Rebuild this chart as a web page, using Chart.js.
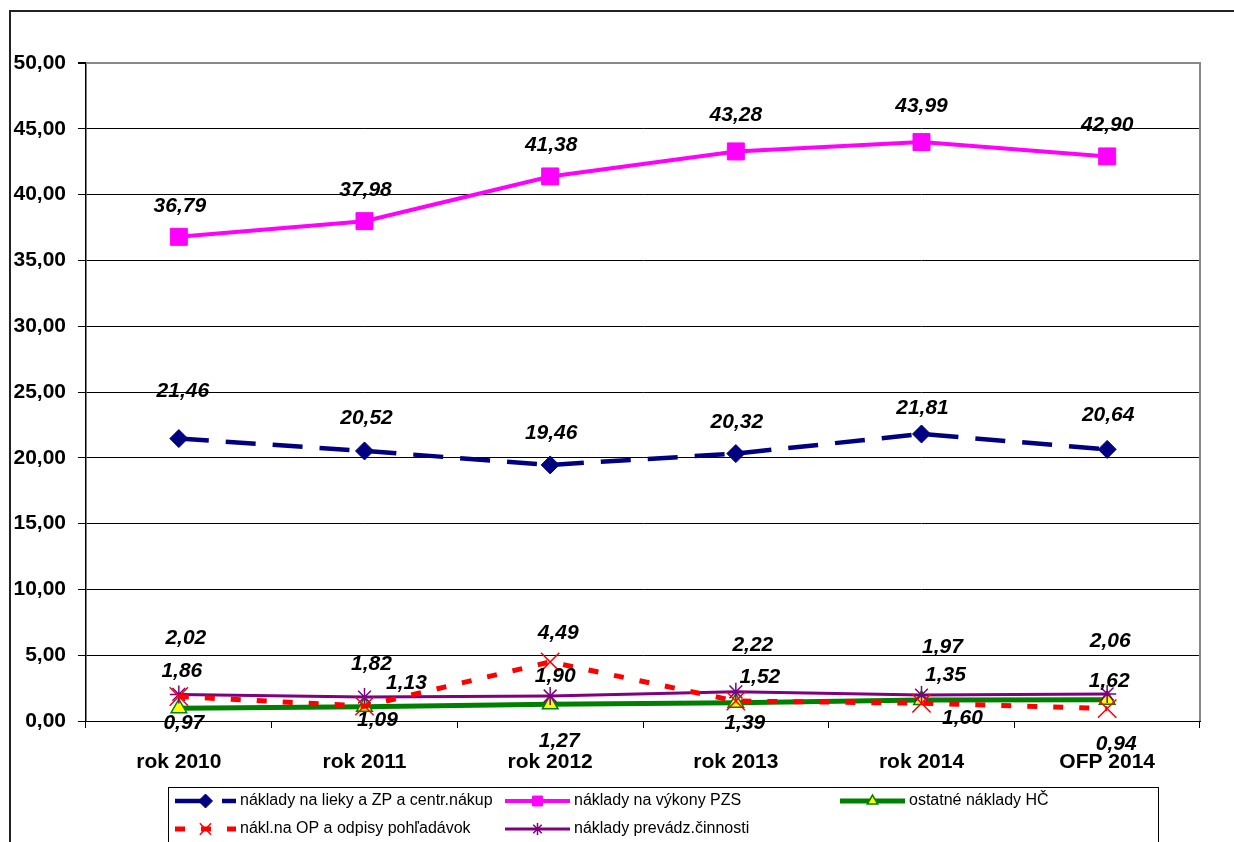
<!DOCTYPE html>
<html>
<head>
<meta charset="utf-8">
<title>Náklady</title>
<script src="https://cdn.jsdelivr.net/npm/chart.js@4/dist/chart.umd.min.js"></script>
<style>
  html, body { margin: 0; padding: 0; background: #fff; }
  #wrap { width: 1234px; height: 842px; position: relative; }
</style>
</head>
<body>
<div id="wrap"><canvas id="nakladyChart" width="1234" height="842"></canvas></div>
<script>
// Data
const categories = ['rok 2010', 'rok 2011', 'rok 2012', 'rok 2013', 'rok 2014', 'OFP 2014'];
const liekyZP    = [21.46, 20.52, 19.46, 20.32, 21.81, 20.64];
const vykonyPZS  = [36.79, 37.98, 41.38, 43.28, 43.99, 42.90];
const ostatneHC  = [0.97, 1.09, 1.27, 1.39, 1.60, 1.62];
const odpisyOP   = [1.86, 1.13, 4.49, 1.52, 1.35, 0.94];
const prevadzka  = [2.02, 1.82, 1.90, 2.22, 1.97, 2.06];
const yMin = 0, yMax = 50, yStep = 5;

const FONT = '"Liberation Sans", Arial, sans-serif';
const fmt = v => v.toFixed(2).replace('.', ',');

/* ==========================
   PLUGINS
========================== */
// outer frame + plot area border
const framePlugin = {
  id: 'frame',
  beforeDraw(chart) {
    const ctx = chart.ctx;
    ctx.save();
    ctx.strokeStyle = '#222';
    ctx.lineWidth = 2;
    ctx.beginPath();
    ctx.moveTo(10, 842); ctx.lineTo(10, 11); ctx.lineTo(1234, 11);
    ctx.stroke();
    ctx.restore();
  },
  afterDatasetsDraw(chart) {
    const { ctx, chartArea: a } = chart;
    ctx.save();
    ctx.strokeStyle = '#888';
    ctx.lineWidth = 2;
    ctx.beginPath();
    ctx.moveTo(a.left, a.top); ctx.lineTo(a.right, a.top); ctx.lineTo(a.right, a.bottom);
    ctx.stroke();
    ctx.restore();
  }
};

// value labels next to the points
const labelPlugin = {
  id: 'valueLabels',
  afterDatasetsDraw(chart) {
    const ctx = chart.ctx;
    ctx.save();
    ctx.font = 'italic bold 21px ' + FONT;
    ctx.fillStyle = '#000';
    ctx.textAlign = 'center';
    ctx.textBaseline = 'middle';
    chart.data.datasets.forEach((ds, i) => {
      const meta = chart.getDatasetMeta(i);
      meta.data.forEach((pt, j) => {
        const off = ds.labelOffsets[j];
        ctx.fillText(fmt(ds.data[j]), pt.x + off[0], pt.y + off[1]);
      });
    });
    ctx.restore();
  }
};

// legend box like the original (fixed columns)
const legendSlots = [
  { idx: 0, x1: 175, x2: 236, y: 801 },
  { idx: 1, x1: 505, x2: 570, y: 801 },
  { idx: 2, x1: 840, x2: 905, y: 801 },
  { idx: 3, x1: 175, x2: 236, y: 829 },
  { idx: 4, x1: 505, x2: 570, y: 829 }
];

const legendPlugin = {
  id: 'boxLegend',
  afterDraw(chart) {
    const ctx = chart.ctx;
    ctx.save();
    ctx.strokeStyle = '#000';
    ctx.lineWidth = 1;
    ctx.strokeRect(168.5, 787.5, 990, 70);
    ctx.restore();

    legendSlots.forEach(s => {
      const ds = chart.data.datasets[s.idx];
      // line sample
      ctx.save();
      ctx.strokeStyle = ds.borderColor;
      ctx.lineWidth = ds.borderWidth;
      ctx.setLineDash(ds.borderDash || []);
      ctx.beginPath();
      ctx.moveTo(s.x1, s.y); ctx.lineTo(s.x2, s.y);
      ctx.stroke();
      ctx.restore();

      // marker
      ctx.save();
      ctx.fillStyle = ds.pointBackgroundColor;
      ctx.strokeStyle = ds.pointBorderColor;
      ctx.lineWidth = ds.pointBorderWidth;
      Chart.helpers.drawPoint(ctx, {
        pointStyle: ds.pointStyle,
        radius: ds.legendRadius,
        borderWidth: ds.pointBorderWidth,
        rotation: 0
      }, (s.x1 + s.x2) / 2, s.y);
      ctx.restore();

      // text
      ctx.save();
      ctx.font = '16px ' + FONT;
      ctx.fillStyle = '#000';
      ctx.textBaseline = 'middle';
      ctx.fillText(ds.label, s.x2 + 4, s.y);
      ctx.restore();
    });
  }
};

/* ==========================
   CHART
========================== */
const ctx = document.getElementById('nakladyChart').getContext('2d');

new Chart(ctx, {
  type: 'line',
  data: {
    labels: categories,
    datasets: [{
      label: 'náklady na lieky a ZP a centr.nákup',
      data: liekyZP,
      borderColor: '#000080',
      borderWidth: 4.5,
      borderDash: [30, 17],
      pointStyle: 'rectRot',
      pointRadius: 9,
      legendRadius: 7,
      pointBackgroundColor: '#000080',
      pointBorderColor: '#000080',
      pointBorderWidth: 1,
      order: 3,
      labelOffsets: [[4, -47], [2, -33], [1, -32], [1, -31], [1, -26], [1, -34]]
    }, {
      label: 'náklady na výkony PZS',
      data: vykonyPZS,
      borderColor: '#FF00FF',
      borderWidth: 4,
      pointStyle: 'rect',
      pointRadius: 12,
      legendRadius: 7,
      pointBackgroundColor: '#FF00FF',
      pointBorderColor: '#FF00FF',
      pointBorderWidth: 1,
      order: 4,
      labelOffsets: [[1, -31], [1, -31], [1, -31], [0, -36], [0, -36], [0, -31]]
    }, {
      label: 'ostatné náklady HČ',
      data: ostatneHC,
      borderColor: '#008000',
      borderWidth: 5,
      pointStyle: 'triangle',
      pointRadius: 9,
      legendRadius: 6,
      pointBackgroundColor: '#FFFF00',
      pointBorderColor: '#008000',
      pointBorderWidth: 1.5,
      order: 2,
      labelOffsets: [[5, 15], [13, 14], [9, 37], [9, 20], [41, 18], [2, -18]]
    }, {
      label: 'nákl.na OP a odpisy pohľadávok',
      data: odpisyOP,
      borderColor: '#FF0000',
      borderWidth: 5,
      borderDash: [10, 16],
      pointStyle: 'crossRot',
      pointRadius: 13,
      legendRadius: 8,
      pointBackgroundColor: '#FF0000',
      pointBorderColor: '#FF0000',
      pointBorderWidth: 1.5,
      order: 0,
      labelOffsets: [[3, -25], [42, -23], [8, -29], [24, -24], [24, -28], [9, 36]]
    }, {
      label: 'náklady prevádz.činnosti',
      data: prevadzka,
      borderColor: '#800080',
      borderWidth: 3,
      pointStyle: 'star',
      pointRadius: 9,
      legendRadius: 6,
      pointBackgroundColor: '#800080',
      pointBorderColor: '#800080',
      pointBorderWidth: 1.5,
      order: 1,
      labelOffsets: [[7, -56], [7, -33], [5, -20], [17, -47], [21, -48], [3, -53]]
    }]
  },
  options: {
    responsive: false,
    devicePixelRatio: 1,
    animation: false,
    layout: { padding: { left: 0, top: 63, right: 34, bottom: 0 } },
    plugins: {
      legend: { display: false },
      tooltip: { enabled: false }
    },
    elements: { line: { tension: 0 } },
    scales: {
      x: {
        offset: true,
        grid: {
          offset: true,
          drawOnChartArea: false,
          drawTicks: true,
          tickLength: 7,
          color: '#000'
        },
        border: { color: '#000', width: 1 },
        ticks: {
          color: '#000',
          padding: 22,
          maxRotation: 0,
          font: { family: FONT, size: 21, weight: 'bold' }
        },
        afterFit(scale) { scale.height = 121; }
      },
      y: {
        min: yMin,
        max: yMax,
        grid: {
          color: c => (c.tick && c.tick.value === yMax) ? '#888' : '#000',
          lineWidth: c => (c.tick && c.tick.value === yMax) ? 2 : 1,
          tickColor: '#000',
          tickLength: 8
        },
        border: { color: '#000', width: 1.5 },
        ticks: {
          stepSize: yStep,
          color: '#000',
          padding: 12,
          font: { family: FONT, size: 21, weight: 'bold' },
          callback: v => fmt(v)
        },
        afterFit(scale) { scale.width = 86; }
      }
    }
  },
  plugins: [framePlugin, labelPlugin, legendPlugin]
});
</script>
</body>
</html>
